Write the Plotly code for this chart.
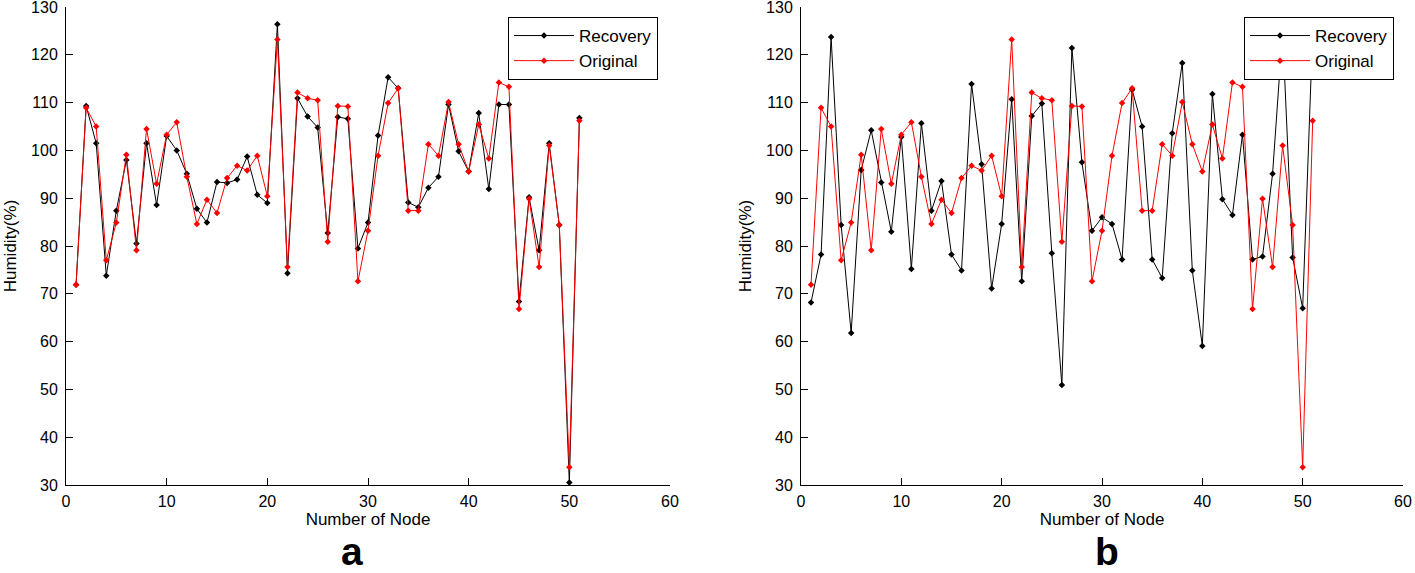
import plotly.graph_objects as go

nodes = list(range(1, 52))

# Panel a
recovery_a = [71.9, 109.3, 101.5, 73.8, 87.4, 98.0, 80.5, 101.5, 88.6, 103.0,
              100.0, 95.1, 87.8, 84.9, 93.4, 93.2, 93.9, 98.7, 90.7, 89.0,
              126.4, 74.3, 110.9, 107.1, 104.8, 82.7, 107.0, 106.6, 79.5, 84.9,
              103.1, 115.3, 113.0, 89.1, 88.1, 92.2, 94.5, 109.6, 99.8, 95.6,
              107.8, 91.9, 109.6, 109.6, 68.4, 90.2, 79.1, 101.5, 84.4, 30.5,
              106.8]
original = [71.9, 108.9, 105.0, 77.0, 84.9, 99.1, 79.1, 104.5, 93.0, 103.3,
            105.9, 94.5, 84.6, 89.7, 86.9, 94.2, 96.8, 95.8, 98.9, 90.4,
            123.2, 75.6, 112.1, 110.9, 110.5, 80.9, 109.3, 109.2, 72.6, 83.2,
            98.9, 109.9, 113.0, 87.4, 87.4, 101.3, 98.9, 110.1, 101.3, 95.6,
            105.4, 98.3, 114.2, 113.3, 66.8, 89.9, 75.6, 101.0, 84.4, 33.7,
            106.2]

# Panel b
recovery_b = [68.2, 78.2, 123.7, 84.4, 61.8, 95.9, 104.2, 93.3, 83.0, 102.8,
              75.2, 105.7, 87.4, 93.6, 78.2, 74.9, 113.9, 97.1, 71.1, 84.6,
              110.7, 72.6, 107.2, 109.8, 78.5, 50.9, 121.4, 97.5, 83.2, 86.0,
              84.6, 77.2, 112.7, 105.0, 77.2, 73.3, 103.6, 118.3, 74.9, 59.1,
              111.8, 89.8, 86.5, 103.3, 77.2, 77.8, 95.1, 125.0, 77.6, 67.0,
              125.0]

x_ticks = [0, 10, 20, 30, 40, 50, 60]
y_ticks = [30, 40, 50, 60, 70, 80, 90, 100, 110, 120, 130]

W, H = 1415, 573
FONT = "Liberation Sans, Arial, sans-serif"


def px_x(p):
    return p / W


def px_y(p):
    return 1 - p / H


fig = go.Figure()

panels = [("x", "y", recovery_a, "legend"), ("x2", "y2", recovery_b, "legend2")]
for xa, ya, rec, leg in panels:
    fig.add_trace(go.Scatter(x=nodes, y=rec, mode="lines+markers", name="Recovery",
                             xaxis=xa, yaxis=ya, legend=leg,
                             line=dict(color="black", width=1),
                             marker=dict(symbol="diamond", size=5, color="black"),
                             cliponaxis=True))
    fig.add_trace(go.Scatter(x=nodes, y=original, mode="lines+markers", name="Original",
                             xaxis=xa, yaxis=ya, legend=leg,
                             line=dict(color="red", width=1),
                             marker=dict(symbol="diamond", size=5, color="red"),
                             cliponaxis=True))

y_dom = [px_y(485), px_y(7)]
ax_common = dict(showline=True, linecolor="black", linewidth=1, mirror=False,
                 ticks="inside", ticklen=7, tickcolor="black", tickwidth=1,
                 showgrid=False, zeroline=False, automargin=False,
                 ticklabeloverflow="allow",
                 tickfont=dict(family=FONT, size=16, color="black"))

xa_common = dict(ax_common, range=[0, 60], tickvals=x_ticks, ticktext=[str(v) for v in x_ticks],
                 ticklabelstandoff=2,
                 title=dict(text="Number of Node", font=dict(family=FONT, size=17, color="black"),
                            standoff=2))
ya_common = dict(ax_common, range=[30, 130], tickvals=y_ticks, ticktext=[str(v) for v in y_ticks],
                 ticklabelstandoff=4,
                 title=dict(text="Humidity(%)", font=dict(family=FONT, size=17, color="black"),
                            standoff=10))

legend_common = dict(bgcolor="white", bordercolor="black", borderwidth=1,
                     font=dict(family=FONT, size=17, color="black"),
                     xanchor="left", yanchor="top", itemwidth=60,
                     tracegroupgap=0)

fig.update_layout(
    width=W, height=H,
    margin=dict(l=0, r=0, t=0, b=0),
    paper_bgcolor="white", plot_bgcolor="white",
    xaxis=dict(xa_common, domain=[px_x(66), px_x(670)], anchor="y"),
    yaxis=dict(ya_common, domain=y_dom, anchor="x"),
    xaxis2=dict(xa_common, domain=[px_x(801), px_x(1403)], anchor="y2"),
    yaxis2=dict(ya_common, domain=y_dom, anchor="x2"),
    legend=dict(legend_common, x=px_x(508), y=px_y(17)),
    legend2=dict(legend_common, x=px_x(1244), y=px_y(17)),
    showlegend=True,
    annotations=[
        dict(text="<b>a</b>", x=px_x(352), y=px_y(551), xref="paper", yref="paper",
             showarrow=False, xanchor="center", yanchor="middle",
             font=dict(family=FONT, size=39, color="black")),
        dict(text="<b>b</b>", x=px_x(1107), y=px_y(551), xref="paper", yref="paper",
             showarrow=False, xanchor="center", yanchor="middle",
             font=dict(family=FONT, size=39, color="black")),
    ],
)

fig.write_html("out.html", config={"displayModeBar": False},
               post_script="document.body.style.margin='0';document.body.style.overflow='hidden';")
